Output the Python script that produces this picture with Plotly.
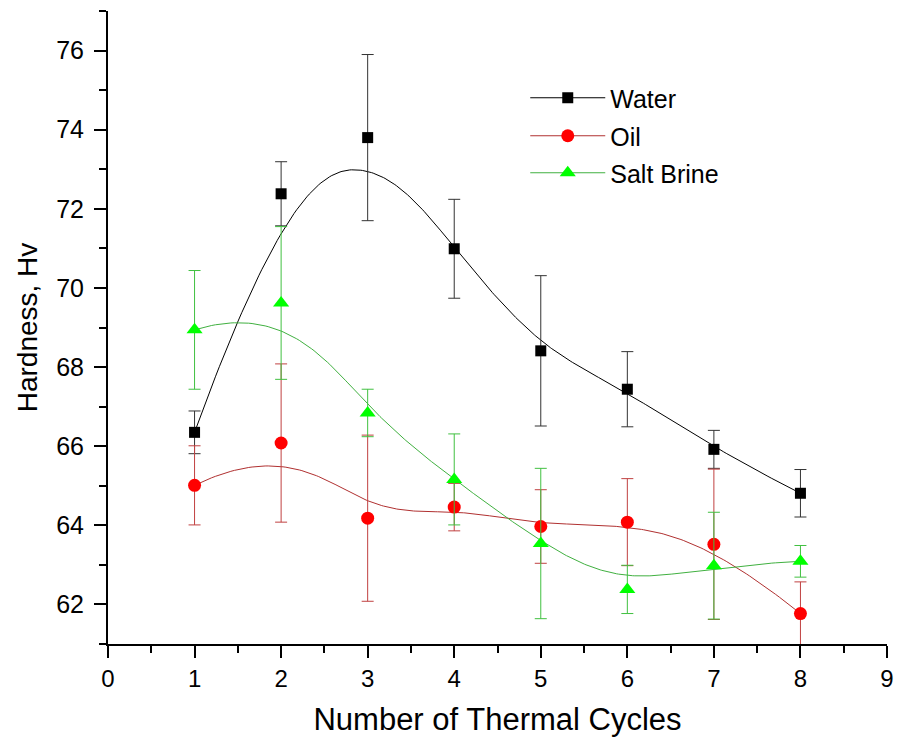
import numpy as np
import plotly.graph_objects as go

cycles = [1, 2, 3, 4, 5, 6, 7, 8]

water = [66.35, 72.38, 73.80, 70.99, 68.41, 67.44, 65.92, 64.81]
water_err = [0.54, 0.81, 2.1, 1.25, 1.9, 0.95, 0.48, 0.6]

oil = [65.01, 66.08, 64.18, 64.46, 63.97, 64.08, 63.52, 61.77]
oil_err = [1.0, 2.0, 2.1, 0.6, 0.93, 1.1, 1.9, 0.8]

brine = [68.94, 69.62, 66.84, 65.16, 63.54, 62.38, 62.98, 63.09]
brine_err = [1.5, 1.93, 0.6, 1.15, 1.9, 0.61, 1.35, 0.4]

x_ticks = [0, 1, 2, 3, 4, 5, 6, 7, 8, 9]
y_ticks = [62, 64, 66, 68, 70, 72, 74, 76]


def bspline(xs, ys, n=300, k=3):
    P = np.column_stack([xs, ys]).astype(float)
    m = len(P)
    inner = list(range(1, m - k))
    knots = np.array([0] * (k + 1) + inner + [m - k] * (k + 1), dtype=float)
    ts = np.linspace(0, m - k, n)
    out = []
    for t in ts:
        if t >= knots[-1]:
            s = m - 1
        else:
            s = np.searchsorted(knots, t, side='right') - 1
        d = [P[j].copy() for j in range(s - k, s + 1)]
        for r in range(1, k + 1):
            for j in range(k, r - 1, -1):
                i = j + s - k
                den = knots[i + k - r + 1] - knots[i]
                a = 0 if den == 0 else (t - knots[i]) / den
                d[j] = (1 - a) * d[j - 1] + a * d[j]
        out.append(d[k])
    out = np.array(out)
    return out[:, 0], out[:, 1]


series = [
    ("Water", water, water_err, "#000000", "#000000", "#333333", "square", 11, "legend"),
    ("Oil", oil, oil_err, "#ff0000", "#b03030", "#c04040", "circle", 13, "legend2"),
    ("Salt Brine", brine, brine_err, "#00ff00", "#40b040", "#40c040", "triangle-up", 14, "legend3"),
]

fig = go.Figure()
for name, vals, errs, mcol, lcol, ecol, sym, size, leg in series:
    sx, sy = bspline(cycles, vals)
    fig.add_trace(go.Scatter(x=sx, y=sy, mode="lines", line=dict(color=lcol, width=1),
                             showlegend=False, hoverinfo="skip"))
    fig.add_trace(go.Scatter(x=cycles, y=vals, mode="markers",
                             marker=dict(symbol=sym, size=size, color=mcol, line=dict(width=0)),
                             error_y=dict(type="data", array=errs, visible=True, color=ecol,
                                          thickness=1, width=6),
                             showlegend=False))
    fig.add_trace(go.Scatter(x=[None], y=[None], mode="lines+markers", name=name,
                             line=dict(color=lcol, width=1),
                             marker=dict(symbol=sym, size=size, color=mcol, line=dict(width=0)),
                             legend=leg, showlegend=True))

L, R, T, B = 108, 7, 11, 96
W, H = 901, 740
pw, ph = W - L - R, H - T - B


def px(xp):
    return (xp - L) / pw


def py(yp):
    return (H - B - yp) / ph


font_family = "Liberation Sans, Arial, sans-serif"
leg_common = dict(font=dict(family=font_family, size=25, color="black"), bgcolor="rgba(0,0,0,0)",
                  xanchor="left", yanchor="middle", itemwidth=75, borderwidth=0)

fig.update_layout(
    width=W, height=H,
    margin=dict(l=L, r=R, t=T, b=B),
    paper_bgcolor="white", plot_bgcolor="white",
    font=dict(family=font_family, color="black"),
    legend=dict(x=px(529), y=py(98), **leg_common),
    legend2=dict(x=px(529), y=py(136), **leg_common),
    legend3=dict(x=px(529), y=py(173), **leg_common),
    xaxis=dict(range=[0, 9], tickvals=x_ticks, ticktext=[str(v) for v in x_ticks],
               showgrid=False, zeroline=False, showline=True, linecolor="black", linewidth=2,
               ticks="outside", ticklen=12, tickwidth=2, tickcolor="black",
               tickfont=dict(size=24, family=font_family),
               minor=dict(dtick=0.5, ticks="outside", ticklen=7, tickwidth=2, tickcolor="black", showgrid=False),
               title=dict(text="Number of Thermal Cycles", font=dict(size=31, family=font_family), standoff=18)),
    yaxis=dict(range=[61, 77], tickvals=y_ticks, ticktext=[str(v) for v in y_ticks],
               showgrid=False, zeroline=False, showline=True, linecolor="black", linewidth=2,
               ticks="outside", ticklen=12, tickwidth=2, tickcolor="black", ticklabelstandoff=5,
               tickfont=dict(size=25, family=font_family),
               minor=dict(tick0=61, dtick=1, ticks="outside", ticklen=7, tickwidth=2, tickcolor="black", showgrid=False),
               title=dict(text="Hardness, Hv", font=dict(size=28, family=font_family), standoff=10)),
)

fig.write_html("out.html")
